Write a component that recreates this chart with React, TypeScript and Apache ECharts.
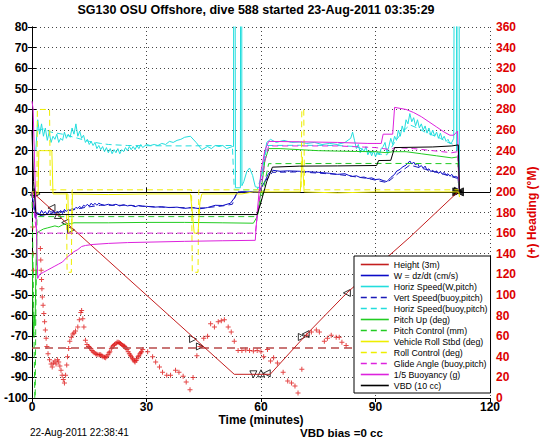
import React, { useEffect, useRef } from "react";
import * as echarts from "echarts";

const FONT = "'Liberation Sans', Arial, Helvetica, sans-serif";

const titleText = "SG130 OSU Offshore, dive 588 started 23-Aug-2011 03:35:29";
const xName = "Time (minutes)";
const rightName = "(+) Heading (\u00B0M)";
const dateText = "22-Aug-2011 22:38:41";
const vbdText = "VBD bias =0 cc";

const legendNames = [
  "Height (3m)",
  "W = dz/dt (cm/s)",
  "Horiz Speed(W,pitch)",
  "Vert Speed(buoy,pitch)",
  "Horiz Speed(buoy,pitch)",
  "Pitch Up (deg)",
  "Pitch Control (mm)",
  "Vehicle Roll Stbd (deg)",
  "Roll Control (deg)",
  "Glide Angle (buoy,pitch)",
  "1/5 Buoyancy (g)",
  "VBD (10 cc)",
];

// [time (min), value]
const heightLine = [[0, 0], [53, -88.5], [62.4, -88.5], [72, -69], [82.5, -49], [99, -22], [111.6, 0]];

const heightMarkers = [
  [0.5, 0, 0], [1.2, -1, -90], [5.1, -7.8, 90], [6.8, -11.2, 0], [8.7, -14.9, 90], [10.2, -18.4, -90],
  [42.2, -71.4, -90], [44, -75, -90], [58, -88.5, 180], [60, -88, 0], [61.5, -88, 90],
  [70.7, -70.4, -90], [71.7, -69, 90], [82.5, -49, 90],
];
const heightEndMarkers = [[111.3, 0, -90], [111.7, 0.3, -90], [112, 0, 90]];

const wSpeed = [
  [0, -2], [0.5, -6], [1, -12], [1.5, -10], [2, -11], [2.5, -9], [3, -10.5], [3.5, -9.5], [4, -11], [4.5, -9],
  [5, -10], [5.5, -9], [6, -10.5], [6.5, -9.5], [7, -10], [7.5, -9], [8, -10.5], [8.5, -8.5], [9, -9.5],
  [9.5, -8.5], [10, -9], [10.5, -8], [11, -8.5], [11.5, -7.5], [12, -8], [12.5, -7], [13, -8], [13.5, -6.5],
  [14, -7], [14.5, -6], [15, -7], [15.5, -5.5], [16, -6.5], [16.5, -5.5], [17, -6.5], [17.5, -5.5], [18, -6],
  [19, -6.5], [20, -6], [21, -6.5], [22, -6], [23, -6.8], [24, -6.2], [25, -6.8], [26, -6.5], [27, -7.2],
  [28, -6.6], [29, -7], [30, -7], [32, -7.4], [34, -7.2], [36, -7.6], [38, -7.4], [40, -8], [42, -7.6],
  [44, -8.2], [46, -7.6], [48, -6.5], [50, -6.6], [52, -5.5], [53, -3], [54, 0], [56, 0], [59.4, 0],
  [61, 5], [62, 9], [63, 10.5], [65, 10], [67, 10.2], [70, 10], [72, 9.8], [75, 9.5], [78, 9], [80, 8.5],
  [82, 8.8], [83, 8], [84, 7.5], [85, 7.8], [86, 7], [87, 7.2], [88, 6.5], [89, 6.8], [90, 6], [91, 6.2],
  [92, 5.5], [93, 5], [94, 7], [95, 8.5], [95.5, 10], [96.5, 11], [97, 12], [98, 13], [99, 15],
  [99.5, 13.5], [100, 14.5], [100.5, 13], [101, 14], [101.5, 12], [102, 12.8], [102.5, 11.5], [103, 12.5],
  [103.5, 10.5], [104, 11.2], [104.5, 9.8], [105, 10.5], [105.5, 9.5], [106, 10.2], [106.5, 9], [107, 9.8],
  [107.5, 8.6], [108, 9.5], [108.5, 8.2], [109, 8.8], [109.5, 7.6], [110, 8.5], [110.5, 7.2], [111, 7.5],
  [111.6, 7], [112, 0],
];

const vertSpeedBuoy = [
  [0, -1], [0.5, -8], [1, -13], [2, -11.5], [4, -11], [6, -10], [8, -9.5], [10, -9], [14, -7.5], [18, -6.5],
  [25, -6.5], [35, -7.5], [45, -7.8], [50, -6.8], [52.5, -6], [53.5, -1], [54, 0], [59.4, 0], [61, 5],
  [63, 9.5], [70, 9.7], [80, 8.5], [88, 6.5], [93, 4.5], [96, 9], [99, 13], [103, 11], [107, 9],
  [111.6, 6.5], [112, 0],
];

const horizSpeedW = [
  [1, 20], [1.5, 35], [2, 28], [2.5, 33], [3, 27], [3.5, 31], [4, 25], [4.5, 29], [5, 24], [5.5, 27],
  [6, 25.5], [6.5, 28], [7, 24], [7.5, 26], [8, 25], [8.5, 29], [9, 26], [9.5, 28], [10, 26.5], [10.5, 31],
  [11, 28], [11.5, 33], [12, 27], [12.5, 29.5], [13, 26], [13.5, 27.5], [14, 24], [14.5, 25.5], [15, 23],
  [15.5, 24.5], [16, 22.5], [16.5, 24], [17, 21], [17.5, 22.5], [18, 20.5], [18.5, 22], [19, 19.5],
  [19.5, 21.5], [20, 19], [20.5, 21], [21, 18.5], [21.5, 20.5], [22, 19], [22.5, 21], [23, 18.5],
  [23.5, 20.5], [24, 19.5], [24.5, 21.5], [25, 20], [25.5, 22], [26, 20.5], [26.5, 22], [27, 20.5],
  [27.5, 22.5], [28, 21], [28.5, 23], [29, 21.5], [30, 23], [31, 22.5], [32, 23], [33, 22.5], [34, 23.5],
  [35, 23], [36, 24.5], [37, 24], [38, 25], [39, 25.5], [40, 26.5], [41.5, 27], [43, 24], [44.5, 20.5],
  [46, 22], [47, 21], [48, 22.5], [49, 22], [50, 22.5], [51, 21], [52.5, 22], [52.8, 22], [53, 400],
  [53.3, 2], [54.6, 2], [54.8, 400], [55, 3], [55.5, 5], [56.3, 10], [57, 11.6], [57.8, 8], [58.5, 2.5],
  [59.5, 2], [60.5, 12], [61.5, 24], [62.5, 25.5], [64, 24], [66, 25], [68, 24], [70, 24.2], [72, 23.5],
  [74, 24], [76, 23], [78, 23.5], [80, 23], [82, 24], [83.5, 26], [84, 29], [84.5, 25], [85, 21],
  [85.5, 23], [86, 19], [86.5, 21], [87, 19.5], [87.5, 22], [88, 18], [88.5, 20], [89, 17.5], [89.5, 20],
  [90, 17], [90.5, 19.5], [91, 18], [91.5, 21], [92, 22], [92.5, 24], [93, 19], [93.5, 22], [94, 26],
  [94.5, 23], [95, 27], [95.5, 25], [96, 30], [96.5, 27], [97, 32], [97.5, 29], [98, 35], [98.5, 33],
  [99, 38], [99.5, 34], [100, 36], [100.5, 32], [101, 35], [101.5, 31], [102, 33], [102.5, 30], [103, 32],
  [103.5, 28.5], [104, 31], [104.5, 27.5], [105, 30], [105.5, 27], [106, 29], [106.5, 26], [107, 28.5],
  [107.5, 25.5], [108, 27], [108.5, 24.5], [109, 25.5], [109.5, 23.5], [110, 24], [110.5, 26],
  [111, 400], [111.3, 20], [111.6, 400], [112, 0],
];

const horizSpeedBuoy = [
  [1.5, 30], [3, 30.5], [5, 29], [8, 28], [10, 27], [12, 26], [15, 24.5], [18, 23.5], [20, 23], [25, 22.5],
  [30, 22.4], [40, 22.3], [50, 22.5], [52.5, 22.5], [53, 1], [59, 1], [60.5, 10], [61.5, 22.5], [70, 22.6],
  [80, 22.5], [85, 22], [88, 19.5], [90, 18.5], [93, 18], [95, 24], [97, 29], [99, 32.5], [101, 31],
  [103, 29], [105, 27.5], [107, 26], [109, 24], [110.5, 23], [111.6, 22], [112, 0],
];

const pitchUp = [
  [0.1, -30], [0.2, -52], [0.4, -70], [0.6, -60], [0.8, -65], [1, -40], [1.3, -20], [2, -19], [3, -18],
  [4, -17.5], [5, -17], [6, -16.5], [7, -17], [8, -16], [9, -15.5], [10, -15.5], [11, -15], [20, -15],
  [30, -14.8], [40, -14.8], [50, -15], [58, -15.2], [59, -12], [60, 0], [61, 15], [62, 21], [65, 21],
  [70, 20.5], [75, 20], [80, 19.8], [85, 19.6], [90, 19.5], [93, 19], [94.5, 19.5], [98, 19.5], [102, 18.5],
  [106, 17.5], [110, 16.5], [111.6, 17], [112, 0],
];

const pitchControl = [
  [0, 0], [0.6, -80], [0.8, -110], [1.0, -60], [1.3, -12], [10, -12], [30, -12], [59, -12], [60.5, 0],
  [62, 13.7], [80, 13.8], [95, 13.8], [111.6, 13.7], [112, 0],
];

const vehicleRoll = [
  [0, -1], [1.6, -1], [1.8, 20], [5.2, 20], [5.5, -1], [9.4, -1], [9.6, -20], [10.4, -20], [10.6, -1],
  [20, -1.3], [30, -1], [41.5, -1], [42, -10], [42.5, -20], [43.5, -20], [44, -5], [44.5, -1], [55, -1],
  [58, 0], [70.3, 0], [70.8, 17], [71.3, 0], [80, -0.5], [90, 0], [100, 0], [110, 0], [111.8, 0],
  [112, -2.5],
];

const rollControl = [
  [0, 0], [1.3, 0], [1.4, 40], [4.6, 40], [4.8, 1], [9, 1], [9.2, -39], [10.3, -39], [10.5, 1], [41.8, 1],
  [42, -39], [43.5, -39], [43.7, 1], [70.5, 1], [70.7, 40], [71.2, 40], [71.4, 1], [112, 1],
];

const glideAngle = [
  [0, 0], [1, -17], [2, -20], [30, -20], [58.5, -20], [59.5, -5], [61, 15], [62, 22.3], [80, 22.3],
  [90, 21.5], [92, 21], [94, 20.5], [95, 21.5], [100, 21], [105, 20], [110, 19], [111.5, 19.5], [112, 0],
];

const buoyancy = [
  [0, 44], [0.3, 40], [1.5, -42], [2, -40], [3, -39], [4, -38], [5, -37], [6, -36], [7, -35], [8, -34],
  [9, -32], [10, -30.5], [11, -29], [12, -28], [13, -26.5], [14, -26], [16, -25.5], [20, -25], [25, -24.6],
  [30, -24.4], [40, -24], [50, -23.7], [58.5, -23.5], [59, -10], [60, 10], [61, 20], [62, 24.5], [70, 24.3],
  [80, 24], [88, 23.5], [91.5, 23.5], [92, 28], [94.5, 28], [95, 41], [98, 40], [100, 38.5], [102, 36.5],
  [104, 34], [106, 31.5], [108, 29], [109.5, 27.5], [110.5, 27.5], [111.5, 29.5], [112, 0],
];

const vbd = [
  [0, 30], [0.4, 5], [1, -10], [1.5, -11], [10, -11], [30, -11], [50, -11], [59, -11], [60, -5],
  [61.5, 5], [63, 12], [70, 12.5], [80, 12.6], [90.3, 12.8], [90.8, 15.2], [94, 15.3], [95, 21.5],
  [105, 21.8], [110, 22.3], [111.7, 22.8], [112, 0],
];

// heading [time (min), degrees]
const heading = [
  [0.2, 166], [0.3, 140], [0.4, 124], [2.2, 145], [2.3, 134], [2.4, 124], [2.5, 115], [2.6, 106], [2.7, 98],
  [2.9, 90], [3.1, 82], [3.3, 74], [3.5, 66], [3.7, 58], [3.9, 50], [4.2, 43], [4.6, 37], [5, 33], [5.3, 30],
  [5.6, 34], [6, 36], [6.3, 33], [6.7, 37], [7, 35], [7.3, 31], [7.6, 27], [7.9, 22], [8.2, 18], [8.5, 14.5],
  [8.8, 22], [9.1, 32], [9.3, 40], [9.6, 48], [9.9, 55], [10.3, 59], [10.7, 62], [11, 63], [11.4, 65],
  [12, 69], [12.4, 76], [12.8, 83], [13, 85], [13.3, 77], [13.6, 69], [14, 56], [14.4, 52], [14.8, 50],
  [15.1, 49], [15.4, 48], [15.7, 46], [16, 45], [16.3, 44], [16.7, 43], [17, 42.5], [17.3, 42], [17.7, 42],
  [18, 42], [18.3, 41], [18.6, 40], [19, 39.5], [19.3, 39], [19.6, 40.5], [19.9, 42], [20.2, 44], [20.4, 45],
  [20.8, 48], [21, 49.5], [21.3, 51], [21.6, 52], [22, 53], [22.3, 54], [22.6, 54], [22.9, 53.5], [23.2, 53],
  [23.5, 52], [23.8, 51], [24.1, 50.5], [24.3, 50], [24.6, 48.5], [24.9, 47], [25.2, 45], [25.5, 43],
  [25.8, 41.5], [26, 40], [26.3, 38.5], [26.5, 37], [26.8, 36], [27, 35], [27.3, 36.5], [27.5, 38],
  [27.8, 40], [28, 41], [28.3, 43], [28.5, 44], [28.7, 45], [29, 47], [30.3, 45], [31.6, 40], [32.4, 35],
  [33.4, 30], [34.2, 25], [35.3, 22], [36.3, 22], [37.6, 27], [38.5, 25], [39.6, 21], [40.4, 15.5], [41.4, 8],
  [42.2, 20], [43.2, 41], [44, 50], [45, 58], [46, 60], [46.8, 72], [47.8, 69], [48.8, 74], [49.6, 75],
  [50.4, 76], [51.4, 69], [52.2, 64], [53, 55], [54, 46], [55, 46], [56, 46.5], [57, 46], [58, 45.5], [59, 46],
  [60, 45], [60.7, 40], [61.7, 47], [62.5, 36], [63.3, 39], [64.3, 34], [65.8, 25], [67, 16.5], [68, 14.5],
  [68.9, 11.6], [69.7, 4.9], [70.7, 28], [72, 61], [73.2, 64], [74.5, 66], [75.3, 64], [76.6, 55], [77.4, 58],
  [78.4, 61], [79.7, 59], [80.5, 59], [81.2, 54], [82.3, 51], [85, 50], [88, 47], [92, 52], [96, 49],
  [100, 46], [104, 50], [108, 48],
];
const headingTarget = [[0, 48.5], [120, 48.5]];

const xTicks = { min: 0, max: 120, interval: 30 };
const leftTicks = { min: -100, max: 80, interval: 10 };
const rightTicks = { min: 0, max: 360, interval: 20 };

const PLUS = "path://M4,0H6V4H10V6H6V10H4V6H0V4H4Z";

function lineSeries(name: string, data: number[][], color: string, dashed = false, width = 1) {
  return {
    name,
    type: "line",
    data,
    symbol: "none",
    showSymbol: false,
    clip: true,
    lineStyle: { color, width, type: dashed ? [6, 4] : "solid" },
    itemStyle: { color },
  };
}

export default function App() {
  const ref = useRef<HTMLDivElement>(null);
  useEffect(() => {
    if (!ref.current) return;
    const chart = echarts.init(ref.current, undefined, { renderer: "svg" });
    const axisLabelStyle = { fontFamily: FONT, fontWeight: "bold", fontSize: 12, color: "#000" };
    const dotted = { show: true, lineStyle: { type: [1, 3], color: "#444", width: 1 } };
    chart.setOption({
      animation: false,
      backgroundColor: "#fff",
      grid: { left: 32, right: 47, top: 27, bottom: 44 },
      graphic: [
        { type: "text", x: 256, y: 10, style: { text: titleText, font: `bold 12.5px ${FONT}`, fill: "#000", textAlign: "center", textVerticalAlign: "middle" } },
        { type: "text", x: 30, y: 432, style: { text: dateText, font: `10px ${FONT}`, fill: "#000", textAlign: "left", textVerticalAlign: "middle" } },
        { type: "text", x: 300, y: 433, style: { text: vbdText, font: `bold 11.5px ${FONT}`, fill: "#000", textAlign: "left", textVerticalAlign: "middle" } },
      ],
      legend: {
        data: legendNames,
        orient: "vertical",
        left: 354,
        top: 256,
        padding: [3, 3, 2, 6],
        itemWidth: 28,
        itemHeight: 11,
        itemGap: 0,
        backgroundColor: "#fff",
        borderColor: "#000",
        borderWidth: 1,
        borderRadius: 0,
        selectedMode: false,
        itemStyle: { opacity: 0 },
        lineStyle: { width: 1.6 },
        textStyle: { fontFamily: FONT, fontSize: 8.8, color: "#000", lineHeight: 11 },
        z: 20,
      },
      xAxis: [
        {
          type: "value", ...xTicks, position: "bottom",
          name: xName, nameLocation: "middle", nameGap: 16, nameMoveOverlap: false,
          nameTextStyle: { fontFamily: FONT, fontWeight: "bold", fontSize: 12, color: "#000" },
          axisLine: { show: true, lineStyle: { color: "#000", width: 1 } },
          axisTick: { show: true, inside: true, length: 4, lineStyle: { color: "#000" } },
          axisLabel: { ...axisLabelStyle, margin: 3 },
          splitLine: dotted,
        },
        {
          type: "value", ...xTicks, position: "top",
          axisLine: { show: true, lineStyle: { color: "#000", width: 1 } },
          axisTick: { show: true, inside: true, length: 4, lineStyle: { color: "#000" } },
          axisLabel: { show: false },
          splitLine: { show: false },
        },
      ],
      yAxis: [
        {
          type: "value", ...leftTicks, position: "left",
          axisLine: { show: true, lineStyle: { color: "#000", width: 1 } },
          axisTick: { show: true, inside: true, length: 4, lineStyle: { color: "#000" } },
          axisLabel: { ...axisLabelStyle, margin: 4 },
          splitLine: dotted,
        },
        {
          type: "value", ...rightTicks, position: "right",
          name: rightName, nameLocation: "middle", nameGap: 36, nameRotate: 90, nameMoveOverlap: false,
          nameTextStyle: { fontFamily: FONT, fontWeight: "bold", fontSize: 12, color: "#dd0000" },
          axisLine: { show: true, lineStyle: { color: "#000", width: 1 } },
          axisTick: { show: true, inside: true, length: 4, lineStyle: { color: "#000" } },
          axisLabel: { ...axisLabelStyle, color: "#dd0000", margin: 6 },
          splitLine: { show: false },
        },
      ],
      series: [
        {
          name: "headingTarget", type: "line", yAxisIndex: 1, data: headingTarget, symbol: "none",
          lineStyle: { color: "#b84a4a", width: 1.5, type: [8, 5] },
        },
        lineSeries(legendNames[0], heightLine, "#c41e1e"),
        lineSeries(legendNames[1], wSpeed, "#0a0ac8"),
        lineSeries(legendNames[2], horizSpeedW, "#22dddd"),
        lineSeries(legendNames[3], vertSpeedBuoy, "#1a1ab8", true),
        lineSeries(legendNames[4], horizSpeedBuoy, "#22dddd", true),
        lineSeries(legendNames[5], pitchUp, "#22cc22"),
        lineSeries(legendNames[6], pitchControl, "#22cc22", true),
        lineSeries(legendNames[7], vehicleRoll, "#eeee00"),
        lineSeries(legendNames[8], rollControl, "#eeee00", true),
        lineSeries(legendNames[9], glideAngle, "#dd22dd", true),
        lineSeries(legendNames[10], buoyancy, "#dd22dd"),
        lineSeries(legendNames[11], vbd, "#000000"),
        {
          name: "heading", type: "scatter", yAxisIndex: 1, data: heading, symbol: PLUS, symbolSize: 5,
          itemStyle: { color: "#dd1818" },
        },
        {
          name: "heightMarkers", type: "scatter",
          data: heightMarkers.map((m) => ({ value: [m[0], m[1]], symbolRotate: m[2] })),
          symbol: "triangle", symbolSize: 7,
          itemStyle: { color: "rgba(0,0,0,0)", borderColor: "#000", borderWidth: 1 },
        },
        {
          name: "heightEnd", type: "scatter",
          data: heightEndMarkers.map((m) => ({ value: [m[0], m[1]], symbolRotate: m[2] })),
          symbol: "triangle", symbolSize: 8,
          itemStyle: { color: "#000", borderColor: "#000", borderWidth: 1 },
        },
      ],
    });
    return () => chart.dispose();
  }, []);
  return <div ref={ref} style={{ width: 546, height: 442, position: "absolute", left: 0, top: 0 }} />;
}
